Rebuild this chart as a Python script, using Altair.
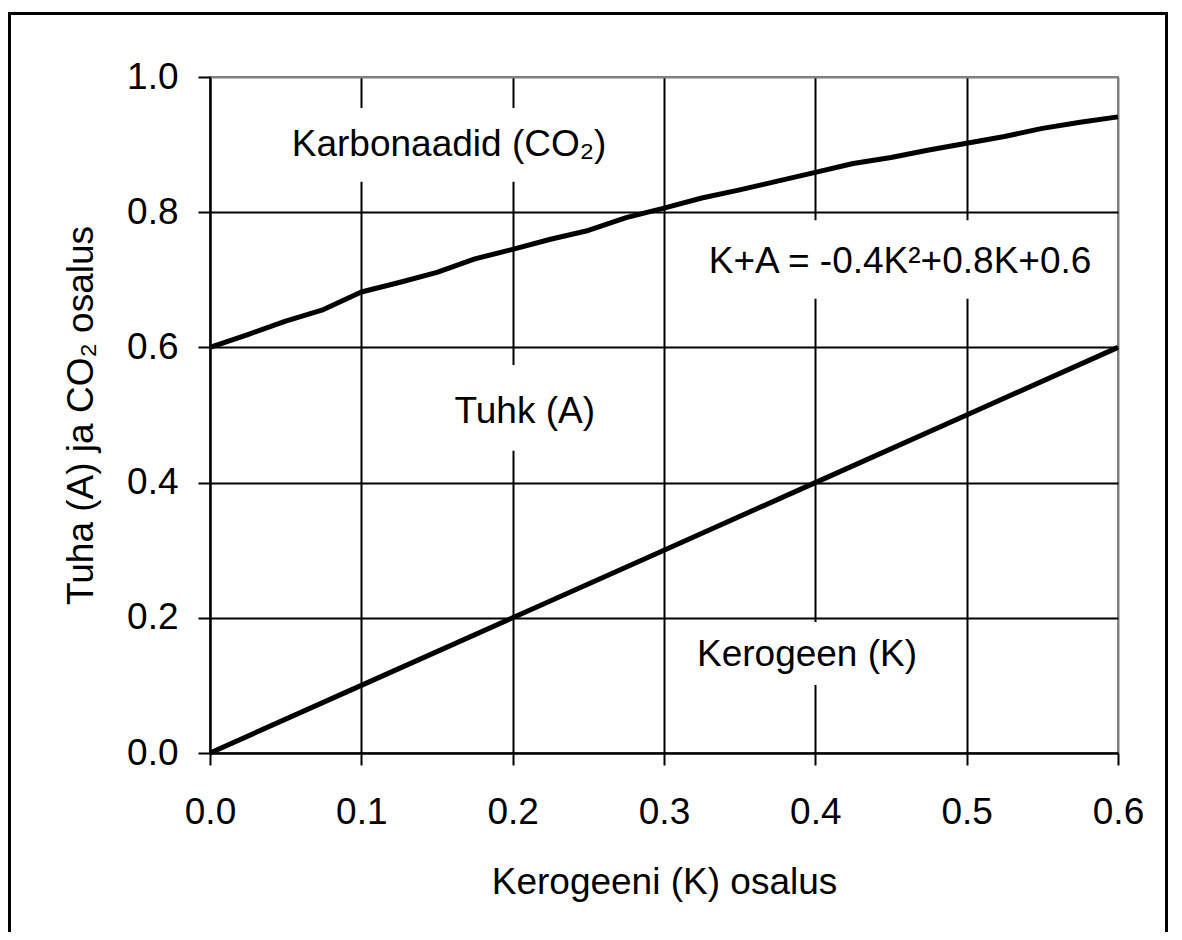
import altair as alt
import pandas as pd

FONT = "Liberation Sans"
FS = 37

# ---- data ----
x_ticks = [0.0, 0.1, 0.2, 0.3, 0.4, 0.5, 0.6]
y_ticks = [0.0, 0.2, 0.4, 0.6, 0.8, 1.0]

K_lin = [0.0, 0.1, 0.2, 0.3, 0.4, 0.5, 0.6]
V_lin = [0.0, 0.1, 0.2, 0.3, 0.4, 0.5, 0.6]

K_curve = [0.0, 0.025, 0.05, 0.075, 0.1, 0.125, 0.15, 0.175, 0.2, 0.225, 0.25,
           0.275, 0.3, 0.325, 0.35, 0.375, 0.4, 0.425, 0.45, 0.475, 0.5, 0.525,
           0.55, 0.575, 0.6]
V_curve = [0.600, 0.619, 0.639, 0.656, 0.682, 0.696, 0.711, 0.731, 0.745, 0.760,
           0.773, 0.792, 0.806, 0.821, 0.833, 0.846, 0.859, 0.872, 0.881, 0.892,
           0.902, 0.912, 0.924, 0.933, 0.941]

label_texts = ["Karbonaadid (CO\u2082)", "K+A = -0.4K\u00b2+0.8K+0.6", "Tuhk (A)", "Kerogeen (K)"]
label_x = [0.158, 0.456, 0.208, 0.3945]
label_y = [0.883, 0.710, 0.488, 0.1287]
box_x1 = [0.050, 0.312, 0.152, 0.312]
box_x2 = [0.268, 0.594, 0.264, 0.489]
box_y1 = [0.845, 0.672, 0.447, 0.1006]
box_y2 = [0.954, 0.788, 0.574, 0.1938]

lin_df = pd.DataFrame({"K": K_lin, "V": V_lin})
curve_df = pd.DataFrame({"K": K_curve, "V": V_curve})
lab_df = pd.DataFrame({"K": label_x, "V": label_y, "t": label_texts})
box_df = pd.DataFrame({"K": box_x1, "K2": box_x2, "V": box_y1, "V2": box_y2})

xs = alt.Scale(domain=[0, 0.6], nice=False, zero=False)
ys = alt.Scale(domain=[0, 1], nice=False, zero=False)

x_axis = alt.Axis(
    values=x_ticks, format=".1f", title="Kerogeeni (K) osalus",
    titleX=454, titleY=140, titleBaseline="alphabetic", titleAlign="center",
    labelPadding=29, labelFlush=False,
    gridColor={"condition": {"test": "datum.value > 0.59", "value": "#808080"}, "value": "black"},
)
y_axis = alt.Axis(
    values=y_ticks, format=".1f", title="Tuha (A) ja CO\u2082 osalus",
    titleX=-118, titleY=338, titleBaseline="alphabetic", titleAlign="center",
    titleAngle=270, labelPadding=20, labelFlush=False,
    gridColor={"condition": {"test": "datum.value > 0.99", "value": "#808080"}, "value": "black"},
)

X = alt.X("K:Q", scale=xs, axis=x_axis)
Y = alt.Y("V:Q", scale=ys, axis=y_axis)

boxes = alt.Chart(box_df).mark_rect(fill="white").encode(
    x=X, x2="K2:Q", y=Y, y2="V2:Q"
)
texts = alt.Chart(lab_df).mark_text(
    font=FONT, fontSize=FS, align="center", baseline="alphabetic", color="black"
).encode(x=X, y=Y, text="t:N")
line_lin = alt.Chart(lin_df).mark_line(color="black", strokeWidth=5).encode(x=X, y=Y)
line_curve = alt.Chart(curve_df).mark_line(color="black", strokeWidth=5, strokeJoin="round").encode(x=X, y=Y)

frame = alt.Chart(alt.Data(values=[{"a": 1}])).mark_rect(
    filled=False, stroke="black", strokeWidth=3
).encode(
    x=alt.value(-200.5), x2=alt.value(956.5), y=alt.value(-63.5), y2=alt.value(1000)
)

chart = alt.layer(boxes, texts, line_lin, line_curve, frame).properties(
    width=908, height=676,
    autosize=alt.AutoSizeParams(type="none"),
    padding={"left": 202, "top": 69, "right": 56, "bottom": 179},
).configure(
    background="white"
).configure_view(
    stroke="#808080", strokeWidth=2
).configure_axis(
    domainColor="black", domainWidth=2,
    gridColor="black", gridWidth=2,
    tickColor="black", tickWidth=2, tickSize=12,
    labelFont=FONT, labelFontSize=FS, labelColor="black",
    titleFont=FONT, titleFontSize=FS, titleFontWeight="normal", titleColor="black",
)

chart.save("out.html", embed_options={"renderer": "svg", "actions": False})
